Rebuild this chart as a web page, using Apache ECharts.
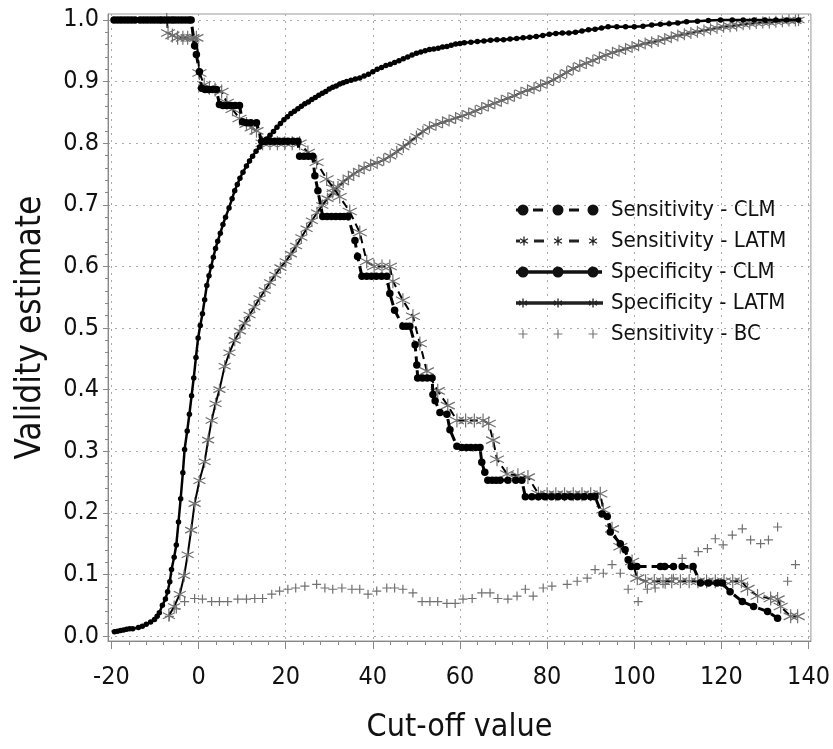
<!DOCTYPE html>
<html><head><meta charset="utf-8">
<script src="https://cdn.jsdelivr.net/npm/echarts@6/dist/echarts.min.js"></script>
<style>html,body{margin:0;padding:0;background:#fff}#c{width:833px;height:749px}</style>
</head><body><div id="c"></div>
<script>
const seriesNames = ['Sensitivity - CLM','Sensitivity - LATM','Specificity - CLM','Specificity - LATM','Sensitivity - BC'];
const xTicks = [-20,0,20,40,60,80,100,120,140];
const xMinorTicks = [-16,-12,-8,-4,4,8,12,16,24,28,32,36,44,48,52,56,64,68,72,76,84,88,92,96,104,108,112,116,124,128,132,136];
const yTicks = [0,0.1,0.2,0.3,0.4,0.5,0.6,0.7,0.8,0.9,1.0];
const yMinorTicks = [0.02,0.04,0.06,0.08,0.12,0.14,0.16,0.18,0.22,0.24,0.26,0.28,0.32,0.34,0.36,0.38,0.42,0.44,0.46,0.48,0.52,0.54,0.56,0.58,0.62,0.64,0.66,0.68,0.72,0.74,0.76,0.78,0.82,0.84,0.86,0.88,0.92,0.94,0.96,0.98];

const sensClm = [[-19.4,1],[-18.6,1],[-17.8,1],[-17.0,1],[-16.2,1],[-15.4,1],[-14.6,1],[-13.4,1],[-12.6,1],[-11.8,1],[-11.0,1],[-10.2,1],[-9.4,1],[-8.6,1],[-7.8,1],[-7.0,1],[-6.2,1],[-5.4,1],[-4.6,1],[-3.8,1],[-3.0,1],[-2.2,1],[-1.7,1],
[-0.9,0.958],[-0.5,0.944],[0.2,0.916],[0.7,0.889],[1.5,0.887],[2.3,0.887],[3.2,0.887],[4.1,0.887],[4.8,0.863],[5.6,0.861],[6.5,0.861],[7.4,0.861],[8.4,0.861],[9.4,0.861],[10.1,0.835],[11.0,0.833],[12.0,0.833],[13.3,0.833],[14.5,0.803],[15.5,0.803],[16.5,0.803],[17.5,0.803],[18.5,0.803],[19.5,0.803],[20.5,0.803],[21.7,0.803],[22.8,0.803],[23.2,0.779],[24.2,0.779],[25.2,0.779],[26.2,0.779],[26.7,0.747],[27.4,0.723],[28.5,0.681],[29.5,0.681],[30.5,0.681],[31.5,0.681],[32.5,0.681],[33.4,0.681],[34.3,0.681],[35.9,0.642],[36.5,0.616],[37.5,0.584],[38.6,0.584],[39.7,0.584],[40.8,0.584],[42.0,0.584],[43.2,0.584],[43.9,0.556],[45.0,0.529],[46.9,0.503],[47.7,0.503],[48.5,0.503],[49.7,0.473],[50.1,0.44],[50.3,0.419],[51.4,0.419],[52.5,0.419],[53.6,0.419],[53.8,0.392],[54.3,0.382],[55.4,0.363],[57.0,0.36],[57.7,0.335],[59.3,0.308],[60.4,0.306],[61.5,0.306],[62.5,0.306],[63.6,0.306],[64.6,0.306],[65.0,0.282],[65.7,0.266],[66.4,0.253],[67.4,0.253],[68.3,0.253],[69.2,0.253],[71.0,0.253],[72.8,0.253],[74.2,0.253],
[75.0,0.226],[76.5,0.226],[78.0,0.226],[79.5,0.226],[81.0,0.226],[82.5,0.226],[84.0,0.226],[85.5,0.226],[87.0,0.226],[88.5,0.226],[90.0,0.226],[91.0,0.226],[92.6,0.198],[93.8,0.194],[94.5,0.169],[96.8,0.15],[97.9,0.14],[98.6,0.124],[99.3,0.113],[100.6,0.113],[106.0,0.113],[107.0,0.113],[109.0,0.113],[111.0,0.113],[113.5,0.113],[115.2,0.086],[117.0,0.086],[119.0,0.086],[120.2,0.086],[122.0,0.072],[124.8,0.056],[127.4,0.048],[130.6,0.04],[132.9,0.029]];

const sensLatm = [[-7.3,1.0],[-7.0,0.979],[-6.0,0.975],[-4.8,0.971],[-3.6,0.971],[-2.5,0.971],[-1.4,0.971],[-0.5,0.971],[0.2,0.914],[1.3,0.895],[2.5,0.89],[3.8,0.887],[5.3,0.884],[6.5,0.866],[7.8,0.855],[9.4,0.84],[11.0,0.831],[12.2,0.825],[13.3,0.82],[14.7,0.80],[16.4,0.80],[18.1,0.80],[19.8,0.80],[21.5,0.80],[23.2,0.80],[25.1,0.785],[27.1,0.769],[29.4,0.742],[31.0,0.727],[32.4,0.713],[34.7,0.689],[37.0,0.655],[38.6,0.608],[40.3,0.60],[42.1,0.60],[43.9,0.60],[44.6,0.576],[46.9,0.545],[49.2,0.519],[50.8,0.475],[52.4,0.43],[54.9,0.398],[57.2,0.374],[59.3,0.35],[61.3,0.35],[63.3,0.35],[65.3,0.35],[66.6,0.345],[67.6,0.318],[68.5,0.287],[70.8,0.263],[73.3,0.261],[75.6,0.258],[78.0,0.231],[80.0,0.23],[82.0,0.23],[84.0,0.23],[86.0,0.23],[88.0,0.23],[90.0,0.23],[92.2,0.231],[92.9,0.205],[94.9,0.174],[96.8,0.145],[99.5,0.121],[100.7,0.094],[102.6,0.089],[104.6,0.089],[106.6,0.089],[108.6,0.089],[110.6,0.089],[112.6,0.089],[114.6,0.089],[116.6,0.089],[118.6,0.089],[120.6,0.089],[122.6,0.089],[124.6,0.089],[126.0,0.077],[128.3,0.065],[131.3,0.061],[132.9,0.06],[133.6,0.048],[135.9,0.032],[137.5,0.032]];

const specClm = [[-19.3,0.007],[-18.6,0.008],[-17.9,0.009],[-17.2,0.010],[-16.5,0.011],[-15.8,0.012],[-15.1,0.012],[-13.8,0.014],[-12.9,0.016],[-12.0,0.019],[-11.0,0.023],[-10.1,0.027],[-9.5,0.032],[-9.0,0.038],[-8.3,0.05],[-7.6,0.06],[-7.1,0.072],[-6.6,0.088],[-6.2,0.108],[-5.6,0.128],[-5.1,0.148],[-4.6,0.185],[-4.1,0.223],[-3.6,0.265],[-3.2,0.303],[-2.6,0.333],[-2.1,0.36],[-1.6,0.39],[-1.1,0.419],[-0.6,0.452],[-0.1,0.484],[0.4,0.504],[0.9,0.523],[1.4,0.546],[1.9,0.569],[2.4,0.585],[2.9,0.60],[3.4,0.615],[3.9,0.629],[4.4,0.641],[5.0,0.654],[5.6,0.668],[6.2,0.68],[7.0,0.695],[7.7,0.71],[8.3,0.723],[8.9,0.733],[9.5,0.743],[10.2,0.753],[11.0,0.763],[11.7,0.771],[12.4,0.779],[13.2,0.787],[14.0,0.794],[14.8,0.801],[15.6,0.807],[16.4,0.813],[17.2,0.819],[18.0,0.826],[18.8,0.832],[19.6,0.838],[20.4,0.843],[21.2,0.848],[22.0,0.852],[22.8,0.856],[23.6,0.86],[24.4,0.864],[25.2,0.867],[26.0,0.871],[26.8,0.874],[27.6,0.878],[28.4,0.881],[29.2,0.884],[30.0,0.888],[30.8,0.891],[31.6,0.893],[32.4,0.896],[33.2,0.898],[34.0,0.900],[35.0,0.902],[36.0,0.904],[37.0,0.906],[38.0,0.909],[39.0,0.912],[40.0,0.916],[41.0,0.92],[42.0,0.923],[43.0,0.926],[44.0,0.928],[45.0,0.931],[46.0,0.934],[47.0,0.937],[48.0,0.94],[49.0,0.943],[50.0,0.946],[51.0,0.948],[52.0,0.95],[53.0,0.952],[54.0,0.953],[55.0,0.954],[56.0,0.956],[57.0,0.957],[58.0,0.959],[59.0,0.961],[60.0,0.962],[61.0,0.963],[62.5,0.964],[64.0,0.965],[65.5,0.966],[67.0,0.967],[68.5,0.968],[70.0,0.968],[71.5,0.969],[73.0,0.97],[74.5,0.971],[76.0,0.972],[77.5,0.973],[79.0,0.975],[80.5,0.977],[82.0,0.978],[83.5,0.979],[85.0,0.979],[86.5,0.98],[88.0,0.982],[89.5,0.984],[91.0,0.985],[92.5,0.987],[94.0,0.989],[96.0,0.989],[98.0,0.989],[100.0,0.989],[102.0,0.99],[104.0,0.992],[106.0,0.993],[108.0,0.994],[110.0,0.995],[112.0,0.997],[114.5,0.998],[117.0,0.999],[119.8,1.0],[122.5,1.0],[125.0,1.0],[127.5,1.0],[130.0,1.0],[132.5,1.0],[135.0,1.0],[137.7,1.0]];

const specLatm = [[-6.8,0.033],[-5.6,0.048],[-4.3,0.068],[-3.3,0.098],[-2.5,0.132],[-1.7,0.172],[-0.9,0.215],[0.2,0.252],[1.4,0.283],[2.2,0.318],[3.0,0.35],[3.9,0.377],[4.8,0.40],[6.0,0.438],[7.1,0.46],[8.3,0.48],[9.5,0.495],[10.6,0.508],[11.7,0.521],[12.8,0.534],[14.0,0.548],[15.2,0.561],[16.4,0.574],[17.6,0.586],[18.8,0.598],[20.0,0.608],[21.2,0.62],[22.4,0.633],[23.6,0.647],[24.8,0.661],[26.0,0.674],[27.2,0.687],[28.4,0.699],[29.6,0.71],[30.8,0.72],[32.0,0.729],[33.2,0.737],[34.4,0.744],[35.6,0.75],[36.8,0.755],[38.0,0.76],[39.5,0.765],[41.0,0.768],[42.5,0.773],[44.0,0.779],[45.5,0.786],[47.0,0.794],[48.5,0.802],[50.0,0.811],[51.5,0.819],[53.0,0.826],[54.5,0.83],[56.0,0.834],[57.5,0.837],[59.0,0.841],[60.5,0.844],[62.0,0.848],[63.5,0.852],[65.0,0.857],[66.5,0.861],[68.0,0.865],[69.5,0.869],[71.0,0.873],[72.5,0.877],[74.0,0.882],[75.5,0.886],[77.0,0.889],[78.5,0.894],[80.0,0.898],[81.5,0.903],[83.0,0.909],[84.5,0.915],[86.0,0.921],[87.5,0.926],[89.0,0.93],[90.5,0.934],[92.0,0.939],[93.5,0.943],[95.0,0.947],[96.5,0.95],[98.0,0.953],[99.5,0.956],[101.0,0.959],[102.5,0.962],[104.0,0.964],[105.5,0.966],[107.0,0.969],[108.5,0.972],[110.0,0.975],[111.5,0.977],[113.0,0.979],[114.5,0.981],[116.0,0.983],[117.5,0.985],[119.0,0.987],[120.5,0.989],[122.0,0.99],[123.5,0.991],[125.0,0.993],[126.5,0.994],[128.0,0.995],[129.5,0.996],[131.0,0.996],[132.5,0.997],[134.0,0.998],[135.5,0.999],[137.0,0.999],[137.7,1.0]];

const sensBc = [[-6.7,0.032],[-5.1,0.044],[-3.2,0.056],[-0.9,0.061],[0.9,0.06],[3.0,0.056],[4.8,0.056],[6.7,0.056],[9.0,0.06],[11.0,0.06],[12.9,0.061],[14.7,0.061],[16.8,0.068],[18.6,0.073],[20.5,0.076],[22.3,0.078],[24.4,0.081],[27.1,0.084],[29.0,0.078],[30.8,0.076],[32.9,0.078],[35.2,0.076],[37.0,0.076],[38.9,0.068],[40.9,0.073],[43.2,0.078],[45.0,0.078],[46.9,0.076],[49.2,0.07],[51.3,0.056],[53.1,0.056],[54.9,0.056],[57.0,0.053],[58.9,0.053],[60.7,0.06],[62.8,0.061],[65.0,0.07],[66.9,0.07],[68.7,0.061],[71.0,0.06],[73.1,0.065],[75.0,0.076],[76.8,0.065],[79.1,0.078],[81.1,0.081],[84.6,0.084],[86.9,0.089],[89.2,0.094],[91.0,0.108],[92.9,0.102],[94.9,0.116],[96.8,0.102],[98.6,0.076],[100.9,0.056],[103.0,0.076],[104.8,0.078],[107.1,0.084],[109.0,0.094],[111.0,0.126],[112.9,0.11],[114.7,0.137],[116.8,0.142],[118.6,0.158],[120.4,0.148],[122.5,0.164],[124.8,0.174],[126.7,0.156],[129.0,0.15],[130.8,0.156],[132.9,0.177],[135.2,0.089],[137.0,0.116]];

const FONT = '"DejaVu Sans Condensed", "DejaVu Sans", sans-serif';
const GRAY = '#707070';

// legend icon helpers (filled shapes, counter-clockwise)
function quad(x1,y1,x2,y2,w){const dx=x2-x1,dy=y2-y1,L=Math.hypot(dx,dy),nx=-dy/L*w/2,ny=dx/L*w/2;
  const f=v=>v.toFixed(2);
  return 'M'+f(x1+nx)+' '+f(y1+ny)+'L'+f(x2+nx)+' '+f(y2+ny)+'L'+f(x2-nx)+' '+f(y2-ny)+'L'+f(x1-nx)+' '+f(y1-ny)+'Z';}
function circ(cx,cy,r){return 'M'+(cx-r)+' '+cy+'A'+r+' '+r+' 0 1 0 '+(cx+r)+' '+cy+'A'+r+' '+r+' 0 1 0 '+(cx-r)+' '+cy+'Z';}
function star(cx,cy,s,w){return quad(cx,cy-s,cx,cy+s,w)+quad(cx-s*0.87,cy-s*0.5,cx+s*0.87,cy+s*0.5,w)+quad(cx-s*0.87,cy+s*0.5,cx+s*0.87,cy-s*0.5,w);}
function plus(cx,cy,s,w){return quad(cx,cy-s,cx,cy+s,w)+quad(cx-s,cy,cx+s,cy,w);}
const FR = 'M0 0M90 12';
const icons = [
  FR+quad(0,6,3,6,3.2)+circ(7,6,5.5)+quad(17,6,27,6,3.2)+circ(42,6,5.5)+quad(53,6,63,6,3.2)+circ(77,6,5.5),
  FR+quad(0,6,4,6,3)+star(8,6,4.5,1.3)+quad(18,6,28,6,3)+star(42,6,4.5,1.3)+quad(53,6,63,6,3)+star(77,6,4.5,1.3),
  FR+quad(0,6,86,6,3.4)+circ(7,6,5.5)+circ(42,6,5.5)+circ(77,6,5.5),
  FR+quad(0,6,87,6,3.5)+star(7,6,4.5,1.3)+star(42,6,4.5,1.3)+star(77,6,4.5,1.3),
  FR+plus(7,6,4.5,1.2)+plus(42,6,4.5,1.2)+plus(77,6,4.5,1.2)
];
const iconColors = ['#111','#222','#111','#222','#777'];

const STAR = 'path://M5 0L5 10M0.7 2.5L9.3 7.5M0.7 7.5L9.3 2.5';
const PLUS = 'path://M5 0L5 10M0 5L10 5';

const chart = echarts.init(document.getElementById('c'), null, {renderer:'canvas'});
const X_MIN = -20.78, X_MAX = 140.55, Y_MIN = -0.008, Y_MAX = 1.0097;
const axisGray = '#888';
chart.setOption({
  animation: false,
  backgroundColor: '#fff',
  grid: {left:108, right:22, top:14, bottom:105, show:true, borderColor:'#999', borderWidth:1},
  legend: {
    orient:'vertical', left:511, top:194, itemWidth:90, itemHeight:12, itemGap:9,
    selectedMode:false,
    textStyle:{fontFamily:FONT, fontSize:22, color:'#111'},
    itemStyle:{borderWidth:0},
    data: seriesNames.map((n,i)=>({name:n, icon:'path://'+icons[i], itemStyle:{color:iconColors[i], borderWidth:0}}))
  },
  xAxis: [{
    type:'value', min:X_MIN, max:X_MAX,
    name:'Cut-off value', nameLocation:'middle', nameGap:71,
    nameTextStyle:{fontFamily:FONT, fontSize:32, color:'#111'},
    axisLine:{show:true, onZero:false, lineStyle:{color:axisGray, width:1}},
    axisTick:{show:true, length:8, customValues:xTicks, lineStyle:{color:axisGray}},
    axisLabel:{customValues:xTicks, fontFamily:FONT, fontSize:25, color:'#111', margin:24, formatter:v=>String(Math.round(v))},
    splitLine:{show:true, lineStyle:{color:'#aaa', width:1, type:[2,5]}}
  },{
    type:'value', min:X_MIN, max:X_MAX, position:'bottom',
    axisLine:{show:false, onZero:false},
    axisTick:{show:true, length:4, customValues:xMinorTicks, lineStyle:{color:axisGray}},
    axisLabel:{show:false}, splitLine:{show:false}
  }],
  yAxis: [{
    type:'value', min:Y_MIN, max:Y_MAX,
    name:'Validity estimate', nameLocation:'middle', nameGap:60,
    nameTextStyle:{fontFamily:FONT, fontSize:35, color:'#111'},
    axisLine:{show:true, onZero:false, lineStyle:{color:axisGray, width:1}},
    axisTick:{show:true, length:5, customValues:yTicks, lineStyle:{color:axisGray}},
    axisLabel:{customValues:yTicks, fontFamily:FONT, fontSize:25, color:'#111', margin:9, formatter:v=>v.toFixed(1)},
    splitLine:{show:true, lineStyle:{color:'#aaa', width:1, type:[2,5]}}
  },{
    type:'value', min:Y_MIN, max:Y_MAX, position:'left',
    axisLine:{show:false, onZero:false},
    axisTick:{show:true, length:3, customValues:yMinorTicks, lineStyle:{color:axisGray}},
    axisLabel:{show:false}, splitLine:{show:false}
  }],
  series: [
    {name:seriesNames[4], type:'line', data:sensBc, symbol:PLUS, symbolSize:9, showAllSymbol:true,
     itemStyle:{color:'rgba(0,0,0,0)', borderColor:GRAY, borderWidth:1.2},
     lineStyle:{opacity:0, width:0}, z:2},
    {name:seriesNames[3], type:'line', data:specLatm, symbol:STAR, symbolSize:12, showAllSymbol:true,
     itemStyle:{color:'rgba(0,0,0,0)', borderColor:GRAY, borderWidth:1.2},
     lineStyle:{color:'#000', width:2}, z:3},
    {name:seriesNames[1], type:'line', data:sensLatm, symbol:STAR, symbolSize:14, showAllSymbol:true,
     itemStyle:{color:'rgba(0,0,0,0)', borderColor:GRAY, borderWidth:1.2},
     lineStyle:{color:'#000', width:2, type:[8,5]}, z:4},
    {name:seriesNames[2], type:'line', data:specClm, symbol:'circle', symbolSize:5.5, showAllSymbol:true,
     itemStyle:{color:'#000', borderWidth:0},
     lineStyle:{color:'#000', width:2.5}, z:5},
    {name:seriesNames[0], type:'line', data:sensClm, symbol:'circle', symbolSize:7.5, showAllSymbol:true,
     itemStyle:{color:'#000', borderWidth:0},
     lineStyle:{color:'#000', width:3, type:[9,5]}, z:6}
  ]
});
</script></body></html>
